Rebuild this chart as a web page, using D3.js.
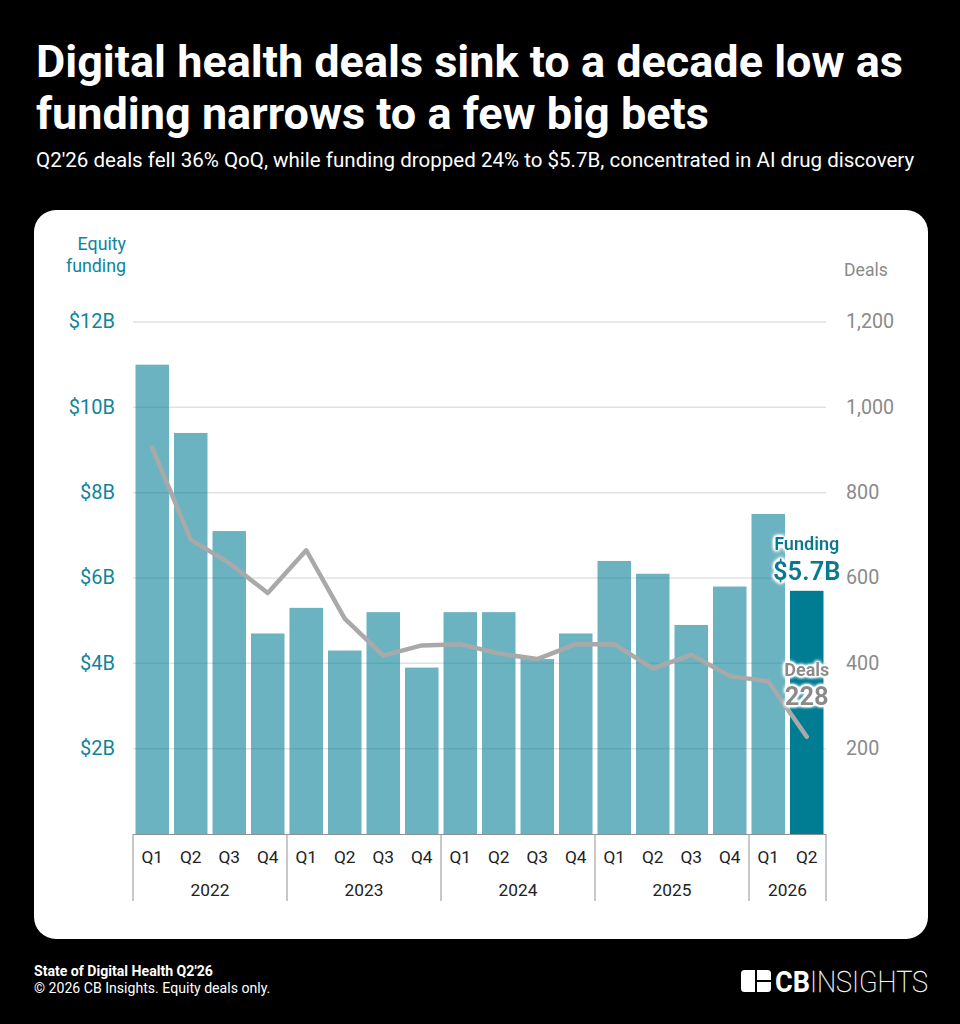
<!DOCTYPE html>
<html>
<head>
<meta charset="utf-8">
<script src="https://cdn.jsdelivr.net/npm/d3@7"></script>
<style>
html, body { margin: 0; padding: 0; background: #000; }
text { font-family: Roboto, sans-serif; }
</style>
</head>
<body>
<div id="chart"></div>
<script>
var quarters = ['Q1','Q2','Q3','Q4','Q1','Q2','Q3','Q4','Q1','Q2','Q3','Q4','Q1','Q2','Q3','Q4','Q1','Q2'];
var years = ['2022','2023','2024','2025','2026'];
var yearCounts = [4, 4, 4, 4, 2];
var funding = [11.0, 9.4, 7.1, 4.7, 5.3, 4.3, 5.2, 3.9, 5.2, 5.2, 4.1, 4.7, 6.4, 6.1, 4.9, 5.8, 7.5, 5.7];
var deals = [905, 690, 635, 565, 665, 505, 418, 442, 445, 423, 410, 445, 445, 388, 420, 370, 358, 228];
var fundingTicks = [2, 4, 6, 8, 10, 12];
var dealTicks = [200, 400, 600, 800, 1000, 1200];

var teal = '#007c93', tealText = '#0f8599', grey = '#8a8a8a', lineGrey = '#a9a9a9';

var svg = d3.select('#chart').append('svg').attr('width', 960).attr('height', 1024)
    .style('display', 'block');

var defs = svg.append('defs');
var halo = defs.append('filter').attr('id', 'halo').attr('x', '-20%').attr('y', '-20%').attr('width', '140%').attr('height', '140%');
halo.append('feGaussianBlur').attr('in', 'SourceAlpha').attr('stdDeviation', 2).attr('result', 'b');
halo.append('feFlood').attr('flood-color', '#fff');
halo.append('feComposite').attr('in2', 'b').attr('operator', 'in').attr('result', 'g');
var hm = halo.append('feComponentTransfer').attr('in', 'g').attr('result', 'g2');
hm.append('feFuncA').attr('type', 'linear').attr('slope', 5);
var merge = halo.append('feMerge');
merge.append('feMergeNode').attr('in', 'g2');
merge.append('feMergeNode').attr('in', 'SourceGraphic');

svg.append('rect').attr('width', 960).attr('height', 1024).attr('fill', '#000');

// header
svg.append('text').attr('x', 36).attr('y', 77).attr('fill', '#fff')
    .attr('font-size', 45).attr('font-weight', 700)
    .text('Digital health deals sink to a decade low as');
svg.append('text').attr('x', 36).attr('y', 129).attr('fill', '#fff')
    .attr('font-size', 45).attr('font-weight', 700)
    .text('funding narrows to a few big bets');
svg.append('text').attr('x', 36).attr('y', 167).attr('fill', '#fff')
    .attr('font-size', 20.55)
    .text("Q2'26 deals fell 36% QoQ, while funding dropped 24% to $5.7B, concentrated in AI drug discovery");

// white card
svg.append('rect').attr('x', 34).attr('y', 210).attr('width', 894).attr('height', 729)
    .attr('rx', 22).attr('fill', '#fff');

var x = d3.scaleBand().domain(d3.range(quarters.length)).range([133, 826]).paddingInner(0.13).paddingOuter(0.065);
var yF = d3.scaleLinear().domain([0, 12]).range([834, 322]);
var yD = d3.scaleLinear().domain([0, 1200]).range([834, 322]);

// gridlines
svg.append('g').selectAll('line').data(fundingTicks).join('line')
    .attr('x1', 133).attr('x2', 826)
    .attr('y1', function(d) { return yF(d); }).attr('y2', function(d) { return yF(d); })
    .attr('stroke', '#e2e2e2').attr('stroke-width', 1.5);

// bars
svg.append('g').selectAll('rect').data(funding).join('rect')
    .attr('x', function(d, i) { return x(i); })
    .attr('width', x.bandwidth())
    .attr('y', function(d) { return yF(d); })
    .attr('height', function(d) { return yF(0) - yF(d); })
    .attr('fill', teal)
    .attr('fill-opacity', function(d, i) { return i === funding.length - 1 ? 1 : 0.58; });

// deals line
var line = d3.line()
    .x(function(d, i) { return x(i) + x.bandwidth() / 2; })
    .y(function(d) { return yD(d); });
svg.append('path').datum(deals).attr('d', line).attr('fill', 'none')
    .attr('stroke', lineGrey).attr('stroke-width', 4.5)
    .attr('stroke-linecap', 'round').attr('stroke-linejoin', 'round');

// left axis
var leftAxis = d3.axisLeft(yF).tickValues(fundingTicks).tickSize(0).tickPadding(0)
    .tickFormat(function(d) { return '$' + d + 'B'; });
var gl = svg.append('g').attr('transform', 'translate(115,-0.5)').call(leftAxis);
gl.select('.domain').remove();
gl.selectAll('text').attr('fill', tealText).attr('font-size', 20).style('font-family', 'Roboto, sans-serif');

// right axis
var rightAxis = d3.axisRight(yD).tickValues(dealTicks).tickSize(0).tickPadding(0)
    .tickFormat(d3.format(','));
var gr = svg.append('g').attr('transform', 'translate(846,-0.5)').call(rightAxis);
gr.select('.domain').remove();
gr.selectAll('text').attr('fill', grey).attr('font-size', 19.7).style('font-family', 'Roboto, sans-serif');

// axis titles
svg.append('text').attr('x', 126).attr('y', 250).attr('text-anchor', 'end')
    .attr('fill', tealText).attr('font-size', 17.8).text('Equity');
svg.append('text').attr('x', 126).attr('y', 272).attr('text-anchor', 'end')
    .attr('fill', tealText).attr('font-size', 17.8).text('funding');
svg.append('text').attr('x', 844).attr('y', 276)
    .attr('fill', grey).attr('font-size', 17.6).text('Deals');

// category axis
svg.append('line').attr('x1', 133).attr('x2', 826).attr('y1', 834.5).attr('y2', 834.5)
    .attr('stroke', '#8f8f8f').attr('stroke-width', 1.2);
svg.append('g').selectAll('text').data(quarters).join('text')
    .attr('x', function(d, i) { return x(i) + x.bandwidth() / 2; })
    .attr('y', 863).attr('text-anchor', 'middle')
    .attr('fill', '#222').attr('font-size', 17.3)
    .text(function(d) { return d; });

var start = 0;
var yearSpans = yearCounts.map(function(c) {
    var s = { a: start, b: start + c };
    start += c;
    return s;
});
var xEdge = function(i) { return 133 + i * (826 - 133) / quarters.length; };
svg.append('g').selectAll('line').data([0].concat(yearSpans.map(function(s) { return s.b; }))).join('line')
    .attr('x1', xEdge).attr('x2', xEdge)
    .attr('y1', 834).attr('y2', 901)
    .attr('stroke', '#a3a3a3').attr('stroke-width', 1.2);
svg.append('g').selectAll('text').data(years).join('text')
    .attr('x', function(d, i) { return (xEdge(yearSpans[i].a) + xEdge(yearSpans[i].b)) / 2; })
    .attr('y', 896).attr('text-anchor', 'middle')
    .attr('fill', '#222').attr('font-size', 17.3)
    .text(function(d) { return d; });

// callouts
var lastX = x(funding.length - 1) + x.bandwidth() / 2;
var callout = svg.append('g').attr('filter', 'url(#halo)').attr('text-anchor', 'middle');
callout.append('text').attr('x', lastX).attr('y', 550).attr('fill', teal)
    .attr('font-size', 18).attr('font-weight', 700).text('Funding');
callout.append('text').attr('x', lastX).attr('y', 580).attr('fill', teal)
    .attr('font-size', 25.5).attr('font-weight', 700).text('$' + funding[funding.length - 1] + 'B');
callout.append('text').attr('x', lastX).attr('y', 676).attr('fill', grey)
    .attr('font-size', 18).attr('font-weight', 700).text('Deals');
callout.append('text').attr('x', lastX).attr('y', 705).attr('fill', grey)
    .attr('font-size', 25.5).attr('font-weight', 700).text(deals[deals.length - 1]);

// footer
svg.append('text').attr('x', 34).attr('y', 976).attr('fill', '#fff')
    .attr('font-size', 14.1).attr('font-weight', 700).text("State of Digital Health Q2'26");
svg.append('text').attr('x', 34).attr('y', 993).attr('fill', '#fff')
    .attr('font-size', 14.1).text('\u00a9 2026 CB Insights. Equity deals only.');

// logo
var logo = svg.append('g');
logo.append('rect').attr('x', 741).attr('y', 970).attr('width', 30).attr('height', 22).attr('rx', 3.5).attr('fill', '#fff');
logo.append('rect').attr('x', 755).attr('y', 970).attr('width', 2).attr('height', 22).attr('fill', '#000');
logo.append('rect').attr('x', 755).attr('y', 980).attr('width', 16).attr('height', 2).attr('fill', '#000');
logo.append('text').attr('x', 775).attr('y', 991.5).attr('fill', '#fff')
    .attr('font-size', 29).attr('font-weight', 700).attr('textLength', 35).attr('lengthAdjust', 'spacingAndGlyphs').text('CB');
logo.append('text').attr('x', 810).attr('y', 991.5).attr('fill', '#fff')
    .attr('stroke', '#fff').attr('stroke-width', 0.3)
    .attr('font-size', 29).attr('font-weight', 100).attr('textLength', 118).attr('lengthAdjust', 'spacingAndGlyphs').text('INSIGHTS');
</script>
</body>
</html>
